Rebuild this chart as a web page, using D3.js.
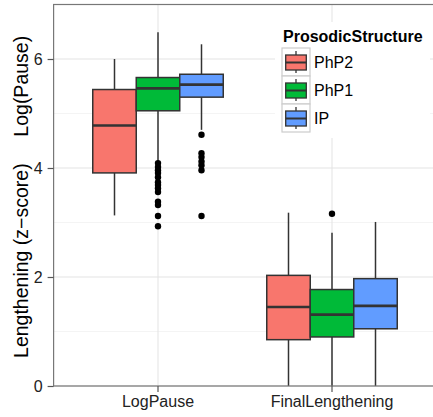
<!DOCTYPE html>
<html lang="en">
<head>
<meta charset="UTF-8">
<title>Prosodic Structure boxplot</title>
<style>
  body { margin: 0; background: #fff; }
  text { font-family: "Liberation Sans", Arial, sans-serif; }
</style>
</head>
<body>
<div id="chart"></div>
<script src="https://d3js.org/d3.v7.min.js"></script>
<script>
// data
const categories = ["LogPause", "FinalLengthening"];
const groups = ["PhP2", "PhP1", "IP"];
const groupColors = ["#F8766D", "#00BA38", "#619CFF"];

// [lower whisker, q1, median, q3, upper whisker] per category
const php2Stats = [[3.13, 3.91, 4.78, 5.44, 6.00], [0, 0.85, 1.45, 2.03, 3.18]];
const php1Stats = [[4.12, 5.05, 5.46, 5.66, 6.49], [0, 0.90, 1.31, 1.77, 2.81]];
const ipStats   = [[4.70, 5.30, 5.53, 5.72, 6.27], [0, 1.05, 1.47, 1.97, 3.01]];

const php2Out = [[], []];
const php1Out = [[4.09, 4.02, 3.96, 3.91, 3.83, 3.74, 3.69, 3.63, 3.56, 3.38, 3.32, 3.12, 2.93], [3.16]];
const ipOut   = [[4.61, 4.27, 4.20, 4.12, 4.05, 3.96, 3.12], []];

const yTicks = [0, 2, 4, 6];
const yMinor = [1, 3, 5];

const statsByGroup = [php2Stats, php1Stats, ipStats];
const outByGroup = [php2Out, php1Out, ipOut];

const width = 433, height = 417;
const plot = { left: 53.6, top: 4.5, right: 436.4, bottom: 386 };

const svg = d3.select("#chart").append("svg")
    .attr("width", width)
    .attr("height", height);

const y = d3.scaleLinear().domain([0, 7]).range([plot.bottom, plot.top]);
const x = d3.scaleBand().domain(categories)
    .range([plot.left, plot.right])
    .paddingInner(0).paddingOuter(0.1);
const dodge = d3.scaleBand().domain(groups)
    .range([0, x.bandwidth() * 0.75]);
const xc = c => x(c) + x.bandwidth() / 2;

// grid
const grid = svg.append("g");
grid.selectAll("line.minor").data(yMinor).enter().append("line")
    .attr("x1", plot.left).attr("x2", plot.right)
    .attr("y1", d => y(d)).attr("y2", d => y(d))
    .attr("stroke", "#f4f4f4").attr("stroke-width", 1);
grid.selectAll("line.major").data(yTicks).enter().append("line")
    .attr("x1", plot.left).attr("x2", plot.right)
    .attr("y1", d => y(d)).attr("y2", d => y(d))
    .attr("stroke", "#e3e3e3").attr("stroke-width", 1);
grid.selectAll("line.vert").data(categories).enter().append("line")
    .attr("x1", d => xc(d)).attr("x2", d => xc(d))
    .attr("y1", plot.top).attr("y2", plot.bottom)
    .attr("stroke", "#e3e3e3").attr("stroke-width", 1);

// boxes
const boxes = [];
categories.forEach((cat, ci) => {
    groups.forEach((g, gi) => {
        boxes.push({
            cat, g, color: groupColors[gi],
            s: statsByGroup[gi][ci],
            out: outByGroup[gi][ci]
        });
    });
});

const boxG = svg.append("g");
boxes.forEach(b => {
    const x0 = xc(b.cat) - x.bandwidth() * 0.375 + dodge(b.g);
    const w = dodge.bandwidth();
    const cx = x0 + w / 2;
    const g = boxG.append("g");
    g.append("line")
        .attr("x1", cx).attr("x2", cx)
        .attr("y1", y(b.s[0])).attr("y2", y(b.s[1]))
        .attr("stroke", "#333").attr("stroke-width", 1.5);
    g.append("line")
        .attr("x1", cx).attr("x2", cx)
        .attr("y1", y(b.s[3])).attr("y2", y(b.s[4]))
        .attr("stroke", "#333").attr("stroke-width", 1.5);
    g.append("rect")
        .attr("x", x0).attr("width", w)
        .attr("y", y(b.s[3])).attr("height", y(b.s[1]) - y(b.s[3]))
        .attr("fill", b.color)
        .attr("stroke", "#333").attr("stroke-width", 1.5);
    g.append("line")
        .attr("x1", x0).attr("x2", x0 + w)
        .attr("y1", y(b.s[2])).attr("y2", y(b.s[2]))
        .attr("stroke", "#333").attr("stroke-width", 2.7);
    g.selectAll("circle").data(b.out).enter().append("circle")
        .attr("cx", cx).attr("cy", d => y(d))
        .attr("r", 3.2).attr("fill", "#000");
});

// panel border + axes
svg.append("rect")
    .attr("x", plot.left).attr("y", plot.top)
    .attr("width", plot.right - plot.left).attr("height", plot.bottom - plot.top)
    .attr("fill", "none").attr("stroke", "#777").attr("stroke-width", 1.2);

const yAxis = svg.append("g")
    .attr("transform", `translate(${plot.left},0)`)
    .call(d3.axisLeft(y).tickValues(yTicks).tickSize(6).tickPadding(5).tickFormat(d3.format("d")));
yAxis.select(".domain").remove();
yAxis.selectAll(".tick line").attr("stroke", "#555").attr("stroke-width", 1.2);
yAxis.selectAll(".tick text").attr("font-size", 16).attr("fill", "#222")
    .attr("font-family", "Liberation Sans, Arial, sans-serif");

const xAxis = svg.append("g")
    .attr("transform", `translate(0,${plot.bottom})`)
    .call(d3.axisBottom(x).tickSize(6).tickPadding(4).tickSizeOuter(0));
xAxis.select(".domain").remove();
xAxis.selectAll(".tick line").attr("stroke", "#555").attr("stroke-width", 1.2);
xAxis.selectAll(".tick text").attr("font-size", 16).attr("fill", "#222")
    .attr("font-family", "Liberation Sans, Arial, sans-serif");

// y titles
svg.append("text")
    .attr("transform", `translate(28,${y(5.5)}) rotate(-90)`)
    .attr("text-anchor", "middle")
    .attr("font-size", 19.5)
    .text("Log(Pause)");
svg.append("text")
    .attr("transform", `translate(28,${y(2.3)}) rotate(-90)`)
    .attr("text-anchor", "middle")
    .attr("font-size", 19.5)
    .text("Lengthening (z\u2212score)");

// legend
const legend = svg.append("g").attr("transform", "translate(275,22)");
legend.append("rect")
    .attr("width", 155).attr("height", 116).attr("fill", "#fff");
legend.append("text")
    .attr("x", 8).attr("y", 20)
    .attr("font-size", 16).attr("font-weight", "bold")
    .text("ProsodicStructure");
groups.forEach((g, i) => {
    const k = legend.append("g").attr("transform", `translate(7,${26 + i * 28})`);
    k.append("rect").attr("width", 28).attr("height", 28)
        .attr("fill", "#fff").attr("stroke", "#ccc").attr("stroke-width", 1.2);
    k.append("line").attr("x1", 14).attr("x2", 14).attr("y1", 3).attr("y2", 25)
        .attr("stroke", "#333").attr("stroke-width", 1.3);
    k.append("rect").attr("x", 3.7).attr("y", 7).attr("width", 20.6).attr("height", 15)
        .attr("fill", groupColors[i]).attr("stroke", "#333").attr("stroke-width", 1.3);
    k.append("line").attr("x1", 3.7).attr("x2", 24.3).attr("y1", 14.5).attr("y2", 14.5)
        .attr("stroke", "#333").attr("stroke-width", 2);
    k.append("text").attr("x", 32).attr("y", 14).attr("dy", "0.36em")
        .attr("font-size", 16).text(g);
});
</script>
</body>
</html>
